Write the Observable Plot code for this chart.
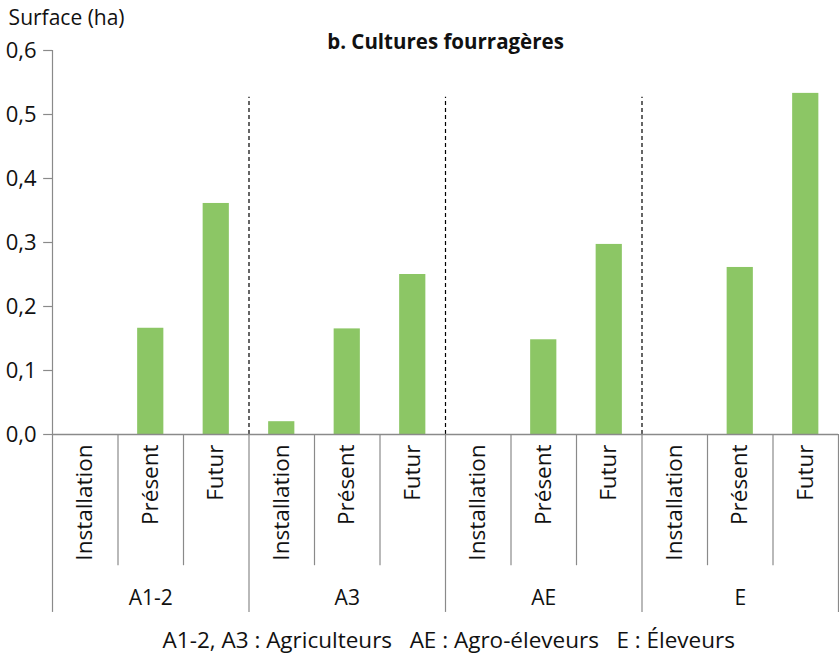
<!DOCTYPE html>
<html>
<head>
<meta charset="utf-8">
<script src="https://cdn.jsdelivr.net/npm/d3@7"></script>
<script src="https://cdn.jsdelivr.net/npm/@observablehq/plot@0.6"></script>
<style>
  html, body { margin: 0; padding: 0; background: #fff; }
  svg { font-family: "Open Sans", Lato, sans-serif; }
</style>
</head>
<body>
<div id="chart"></div>
<script>
const groups = ["A1-2", "A3", "AE", "E"];
const periods = ["Installation", "Présent", "Futur"];
const values = [
  [0, 0.166, 0.361],
  [0.020, 0.165, 0.250],
  [0, 0.148, 0.297],
  [0, 0.261, 0.533]
];
const yTicks = [0, 0.1, 0.2, 0.3, 0.4, 0.5, 0.6];
const title = "b. Cultures fourragères";
const yLabel = "Surface (ha)";
const caption = "A1-2, A3 : Agriculteurs   AE : Agro-éleveurs   E : Éleveurs";

const data = [];
groups.forEach((g, gi) => periods.forEach((p, pi) => {
  data.push({group: g, period: p, i: gi * 3 + pi, value: values[gi][pi]});
}));
const groupData = groups.map((g, gi) => ({group: g, start: gi * 3}));
const subDividers = data.filter(d => d.i % 3 !== 0).map(d => d.i);
const groupDividers = [0, 3, 6, 9, 12];
const dashed = [3, 6, 9];

const fmt = d => d.toFixed(1).replace(".", ",");
const grey = "#8a8a8a";

const chart = Plot.plot({
  width: 839,
  height: 659,
  marginLeft: 52,
  marginRight: 1,
  marginTop: 50,
  marginBottom: 225,
  x: {type: "linear", domain: [0, 12], axis: null},
  y: {domain: [0, 0.6], axis: null},
  marks: [
    Plot.rectY(data, {x1: d => d.i + 0.3, x2: d => d.i + 0.7, y: "value", fill: "#8cc665"}),
    Plot.ruleX(dashed, {y1: 0, y2: 0.527, stroke: "#000", strokeWidth: 1.2, strokeDasharray: "4,3"}),
    Plot.ruleX(subDividers, {y1: 0, y2: -0.205, stroke: grey, strokeWidth: 1.2}),
    Plot.ruleX(groupDividers, {y1: 0, y2: -0.278, stroke: grey, strokeWidth: 1.2}),
    Plot.ruleX([0], {y1: 0, y2: 0.6, stroke: grey, strokeWidth: 1.2}),
    Plot.ruleY([0], {stroke: grey, strokeWidth: 1.5}),
    Plot.ruleY(yTicks, {x1: -0.135, x2: 0, stroke: grey, strokeWidth: 1.2}),
    Plot.text(yTicks, {x: 0, y: d => d, text: fmt, dx: -16, textAnchor: "end", fontSize: 22, fill: "#111"}),
    Plot.text(data, {x: d => d.i + 0.5, y: -0.0155, text: "period", rotate: -90, textAnchor: "end", fontSize: 22.5, fill: "#111"}),
    Plot.text(groupData, {x: d => d.start + 1.5, y: -0.2556, text: "group", fontSize: 21, fill: "#111"}),
    Plot.text([title], {x: 6, y: 0.6125, text: d => d, fontSize: 20.5, fontWeight: "bold", fill: "#111"}),
    Plot.text([yLabel], {x: -0.67, y: 0.65, text: d => d, textAnchor: "start", fontSize: 21, fill: "#111"}),
    Plot.text([caption], {x: 6.05, y: -0.322, text: d => d, fontSize: 22.5, fill: "#111"})
  ]
});
chart.querySelectorAll("text").forEach(t => t.style.whiteSpace = "pre");
document.getElementById("chart").appendChild(chart);
</script>
</body>
</html>
